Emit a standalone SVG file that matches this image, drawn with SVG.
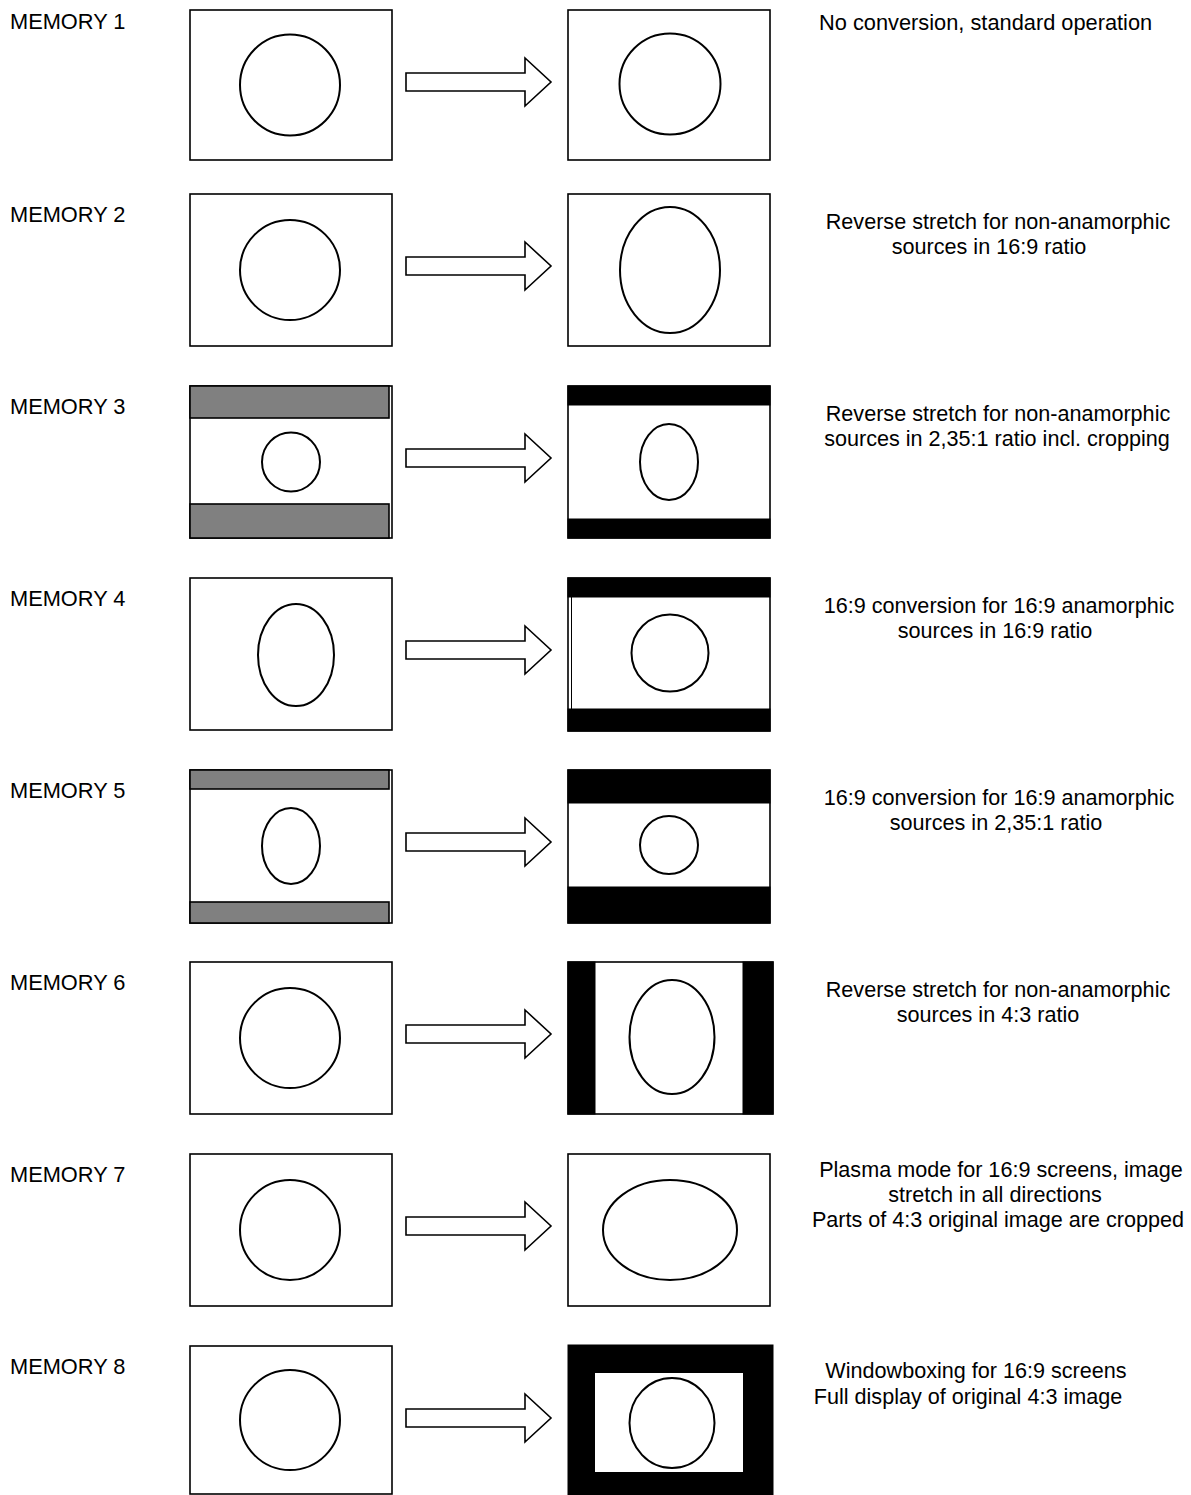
<svg xmlns="http://www.w3.org/2000/svg" width="1191" height="1495" viewBox="0 0 1191 1495">
<style>
text{font-family:"Liberation Sans",Arial,sans-serif;font-size:21.8px;fill:#000}
.d{text-anchor:middle;font-size:21.6px}
.s{font-size:21.8px}
.box{fill:#fff;stroke:#000;stroke-width:1.6}
.gray{fill:#808080;stroke:#000;stroke-width:1.6}
.blk{fill:#000;stroke:#000;stroke-width:1}
.ov{fill:none;stroke:#000;stroke-width:2}
.arr{fill:#fff;stroke:#000;stroke-width:1.6;stroke-linejoin:miter}
</style>
<rect width="1191" height="1495" fill="#fff"/>
<defs>
<polygon id="arrow" class="arr" points="406,-9 525,-9 525,-24 551,0 525,24 525,9 406,9"/>
</defs>

<g id="labels">
<text id="label-1" x="10" y="29">MEMORY 1</text>
<text id="label-2" x="10" y="222">MEMORY 2</text>
<text id="label-3" x="10" y="414">MEMORY 3</text>
<text id="label-4" x="10" y="606">MEMORY 4</text>
<text id="label-5" x="10" y="798">MEMORY 5</text>
<text id="label-6" x="10" y="990">MEMORY 6</text>
<text id="label-7" x="10" y="1182">MEMORY 7</text>
<text id="label-8" x="10" y="1374">MEMORY 8</text>
</g>

<g id="row1-source"><rect class="box" x="190" y="10" width="202" height="150"/><ellipse class="ov" cx="290" cy="85" rx="50" ry="50.5"/></g>
<g id="row1-result"><rect class="box" x="568" y="10" width="202" height="150"/><ellipse class="ov" cx="670" cy="84" rx="50.5" ry="50.5"/></g>

<g id="row2-source"><rect class="box" x="190" y="194" width="202" height="152"/><ellipse class="ov" cx="290" cy="270" rx="50" ry="50"/></g>
<g id="row2-result"><rect class="box" x="568" y="194" width="202" height="152"/><ellipse class="ov" cx="670" cy="270" rx="50" ry="63"/></g>

<g id="row3-source"><rect class="box" x="190" y="386" width="202" height="152"/><rect class="gray" x="190" y="386" width="199" height="32"/><rect class="gray" x="190" y="504" width="199" height="34"/><ellipse class="ov" cx="291" cy="462" rx="29" ry="29.5"/></g>
<g id="row3-result"><rect class="box" x="568" y="386" width="202" height="152"/><rect class="blk" x="568" y="386" width="202" height="19"/><rect class="blk" x="568" y="519" width="202" height="19"/><ellipse class="ov" cx="669" cy="462" rx="29" ry="38"/></g>

<g id="row4-source"><rect class="box" x="190" y="578" width="202" height="152"/><ellipse class="ov" cx="296" cy="655" rx="38" ry="51"/></g>
<g id="row4-result"><rect class="box" x="568" y="578" width="202" height="153"/><rect class="blk" x="568" y="578" width="202" height="19"/><rect class="blk" x="568" y="709" width="202" height="22"/><line x1="571.5" y1="597" x2="571.5" y2="709" stroke="#000" stroke-width="1"/><ellipse class="ov" cx="670" cy="653" rx="38.5" ry="38.5"/></g>

<g id="row5-source"><rect class="box" x="190" y="770" width="202" height="153"/><rect class="gray" x="190" y="770" width="199" height="19"/><rect class="gray" x="190" y="902" width="199" height="21"/><ellipse class="ov" cx="291" cy="846" rx="29" ry="38"/></g>
<g id="row5-result"><rect class="box" x="568" y="770" width="202" height="153"/><rect class="blk" x="568" y="770" width="202" height="33"/><rect class="blk" x="568" y="887" width="202" height="36"/><ellipse class="ov" cx="669" cy="845" rx="29" ry="29"/></g>

<g id="row6-source"><rect class="box" x="190" y="962" width="202" height="152"/><ellipse class="ov" cx="290" cy="1038" rx="50" ry="50"/></g>
<g id="row6-result"><rect class="box" x="568" y="962" width="205" height="152"/><rect class="blk" x="568" y="962" width="27" height="152"/><rect class="blk" x="743" y="962" width="30" height="152"/><ellipse class="ov" cx="672" cy="1037" rx="42.5" ry="57"/></g>

<g id="row7-source"><rect class="box" x="190" y="1154" width="202" height="152"/><ellipse class="ov" cx="290" cy="1230" rx="50" ry="50"/></g>
<g id="row7-result"><rect class="box" x="568" y="1154" width="202" height="152"/><ellipse class="ov" cx="670" cy="1230" rx="67" ry="50"/></g>

<g id="row8-source"><rect class="box" x="190" y="1346" width="202" height="148"/><ellipse class="ov" cx="290" cy="1420" rx="50" ry="50"/></g>
<g id="row8-result"><rect class="blk" x="568" y="1345" width="205" height="152"/><rect fill="#fff" x="595" y="1373" width="148" height="99"/><ellipse class="ov" cx="672" cy="1423" rx="42.5" ry="45"/></g>

<g id="connectors">
<use href="#arrow" transform="translate(0,82)"/>
<use href="#arrow" transform="translate(0,266)"/>
<use href="#arrow" transform="translate(0,458)"/>
<use href="#arrow" transform="translate(0,650)"/>
<use href="#arrow" transform="translate(0,842)"/>
<use href="#arrow" transform="translate(0,1034)"/>
<use href="#arrow" transform="translate(0,1226)"/>
<use href="#arrow" transform="translate(0,1418)"/>
</g>

<g id="descriptions">
<g id="desc-1"><text class="s" x="819" y="30">No conversion, standard operation</text></g>
<g id="desc-2"><text class="d" x="998" y="229">Reverse stretch for non-anamorphic</text><text class="d" x="989" y="254">sources in 16:9 ratio</text></g>
<g id="desc-3"><text class="d" x="998" y="421">Reverse stretch for non-anamorphic</text><text class="d" x="997" y="446">sources in 2,35:1 ratio incl. cropping</text></g>
<g id="desc-4"><text class="d" x="999" y="613">16:9 conversion for 16:9 anamorphic</text><text class="d" x="995" y="638">sources in 16:9 ratio</text></g>
<g id="desc-5"><text class="d" x="999" y="805">16:9 conversion for 16:9 anamorphic</text><text class="d" x="996" y="830">sources in 2,35:1 ratio</text></g>
<g id="desc-6"><text class="d" x="998" y="997">Reverse stretch for non-anamorphic</text><text class="d" x="988" y="1022">sources in 4:3 ratio</text></g>
<g id="desc-7"><text class="d" x="1001" y="1177">Plasma mode for 16:9 screens, image</text><text class="d" x="995" y="1202">stretch in all directions</text><text class="d" x="998" y="1227">Parts of 4:3 original image are cropped</text></g>
<g id="desc-8"><text class="d" x="976" y="1378">Windowboxing for 16:9 screens</text><text class="d" x="968" y="1404">Full display of original 4:3 image</text></g>
</g>
</svg>
